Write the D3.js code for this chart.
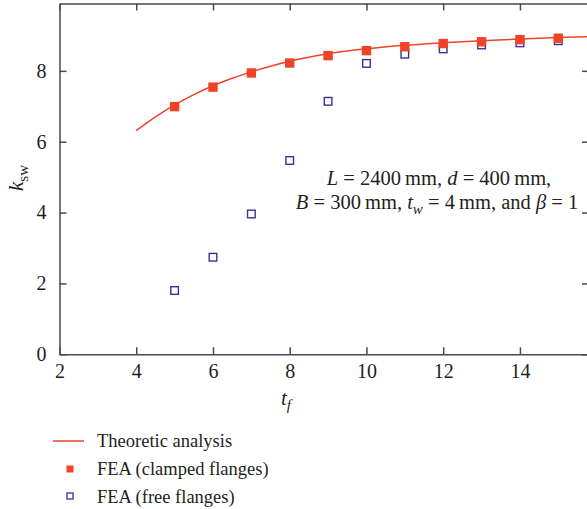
<!DOCTYPE html>
<html>
<head>
<meta charset="utf-8">
<title>ksw vs tf</title>
<script src="https://cdn.jsdelivr.net/npm/d3@7"></script>
<style>
  body { margin: 0; background: #fff; }
  text { font-family: "Liberation Serif", "DejaVu Serif", serif; fill: #231f20; }
  .axis path, .axis line { stroke: #4a4a4a; stroke-width: 1.5; }
  .axis text { font-size: 20px; }
</style>
</head>
<body>
<script>
// data
const theoryT = [4, 4.5, 5, 5.5, 6, 6.5, 7, 7.5, 8, 9, 10, 11, 12, 13, 14, 15, 15.8];
const theoryK = [6.31, 6.70, 7.04, 7.33, 7.58, 7.79, 7.97, 8.13, 8.27, 8.48, 8.62, 8.72, 8.79, 8.85, 8.90, 8.94, 8.96];
const feaT = [5, 6, 7, 8, 9, 10, 11, 12, 13, 14, 15];
const clampedK = [6.99, 7.54, 7.94, 8.22, 8.43, 8.57, 8.68, 8.77, 8.82, 8.88, 8.92];
const freeK = [1.80, 2.74, 3.96, 5.47, 7.14, 8.21, 8.47, 8.62, 8.73, 8.79, 8.85];
const xTicks = [2, 4, 6, 8, 10, 12, 14];
const yTicks = [0, 2, 4, 6, 8];

const red = "#ef4328";
const blue = "#3b2f9b";

const W = 587, H = 509;
const svg = d3.select("body").append("svg")
  .attr("width", W)
  .attr("height", H);

const x = d3.scaleLinear().domain([2, 15.8]).range([59.5, 589]);
const y = d3.scaleLinear().domain([0, 9.9]).range([354.3, 3.5]);

// axes, ticks point inward
svg.append("g").attr("class", "axis")
  .attr("transform", `translate(0,${y(0)})`)
  .call(d3.axisBottom(x).tickValues(xTicks).tickSize(-7).tickPadding(10).tickSizeOuter(0));
svg.append("g").attr("class", "axis")
  .attr("transform", `translate(0,${y(9.9)})`)
  .call(d3.axisTop(x).tickValues(xTicks).tickSize(-7).tickFormat("").tickSizeOuter(0));
svg.append("g").attr("class", "axis")
  .attr("transform", `translate(${x(2)},0)`)
  .call(d3.axisLeft(y).tickValues(yTicks).tickSize(-7).tickPadding(13).tickSizeOuter(0));
svg.append("g").attr("class", "axis")
  .attr("transform", `translate(${x(15.8)},0)`)
  .call(d3.axisRight(y).tickValues(yTicks).tickSize(-7).tickFormat("").tickSizeOuter(0));

// theoretic curve
const theory = theoryT.map((t, i) => [t, theoryK[i]]);
svg.append("path")
  .datum(theory)
  .attr("fill", "none")
  .attr("stroke", red)
  .attr("stroke-width", 1.5)
  .attr("d", d3.line().x(d => x(d[0])).y(d => y(d[1])).curve(d3.curveMonotoneX));

// free flanges (open squares)
svg.selectAll(".free")
  .data(feaT.map((t, i) => [t, freeK[i]]))
  .join("rect")
  .attr("class", "free")
  .attr("x", d => x(d[0]) - 3.8)
  .attr("y", d => y(d[1]) - 3.8)
  .attr("width", 7.6)
  .attr("height", 7.6)
  .attr("fill", "#fff")
  .attr("stroke", blue)
  .attr("stroke-width", 1.4);

// clamped flanges (filled squares)
svg.selectAll(".clamped")
  .data(feaT.map((t, i) => [t, clampedK[i]]))
  .join("rect")
  .attr("class", "clamped")
  .attr("x", d => x(d[0]) - 4.7)
  .attr("y", d => y(d[1]) - 4.7)
  .attr("width", 9.4)
  .attr("height", 9.4)
  .attr("fill", red);

// axis titles
const xt = svg.append("text")
  .attr("x", 286).attr("y", 405)
  .attr("text-anchor", "middle")
  .style("font-size", "21px");
xt.append("tspan").style("font-style", "italic").text("t");
xt.append("tspan").style("font-style", "italic").style("font-size", "15px").attr("dy", 5).text("f");

const yt = svg.append("text")
  .attr("transform", "translate(23,178) rotate(-90)")
  .attr("text-anchor", "middle")
  .style("font-size", "21px");
yt.append("tspan").style("font-style", "italic").text("k");
yt.append("tspan").style("font-size", "15px").attr("dy", 5).text("sw");

// annotation
const a1 = svg.append("text")
  .attr("x", 439).attr("y", 185)
  .attr("text-anchor", "middle")
  .style("font-size", "20.5px");
a1.append("tspan").style("font-style", "italic").text("L");
a1.append("tspan").text(" = 2400\u2009mm, ");
a1.append("tspan").style("font-style", "italic").text("d");
a1.append("tspan").text(" = 400\u2009mm,");

const a2 = svg.append("text")
  .attr("x", 437).attr("y", 209)
  .attr("text-anchor", "middle")
  .style("font-size", "20.5px");
a2.append("tspan").style("font-style", "italic").text("B");
a2.append("tspan").text(" = 300\u2009mm, ");
a2.append("tspan").style("font-style", "italic").text("t");
a2.append("tspan").style("font-style", "italic").style("font-size", "15px").attr("dy", 5).text("w");
a2.append("tspan").attr("dy", -5).text(" = 4\u2009mm, and ");
a2.append("tspan").style("font-style", "italic").text("β");
a2.append("tspan").text(" = 1");

// legend
const lg = svg.append("g").style("font-size", "18.5px");
lg.append("line")
  .attr("x1", 53).attr("x2", 84).attr("y1", 441).attr("y2", 441)
  .attr("stroke", red).attr("stroke-width", 1.5);
lg.append("text").attr("x", 97).attr("y", 447).text("Theoretic analysis");
lg.append("rect")
  .attr("x", 66.5).attr("y", 465.5).attr("width", 7).attr("height", 7)
  .attr("fill", red);
lg.append("text").attr("x", 97).attr("y", 475).text("FEA (clamped flanges)");
lg.append("rect")
  .attr("x", 67).attr("y", 493).attr("width", 6).attr("height", 6)
  .attr("fill", "#fff").attr("stroke", blue).attr("stroke-width", 1.3);
lg.append("text").attr("x", 97).attr("y", 503).text("FEA (free flanges)");
</script>
</body>
</html>
